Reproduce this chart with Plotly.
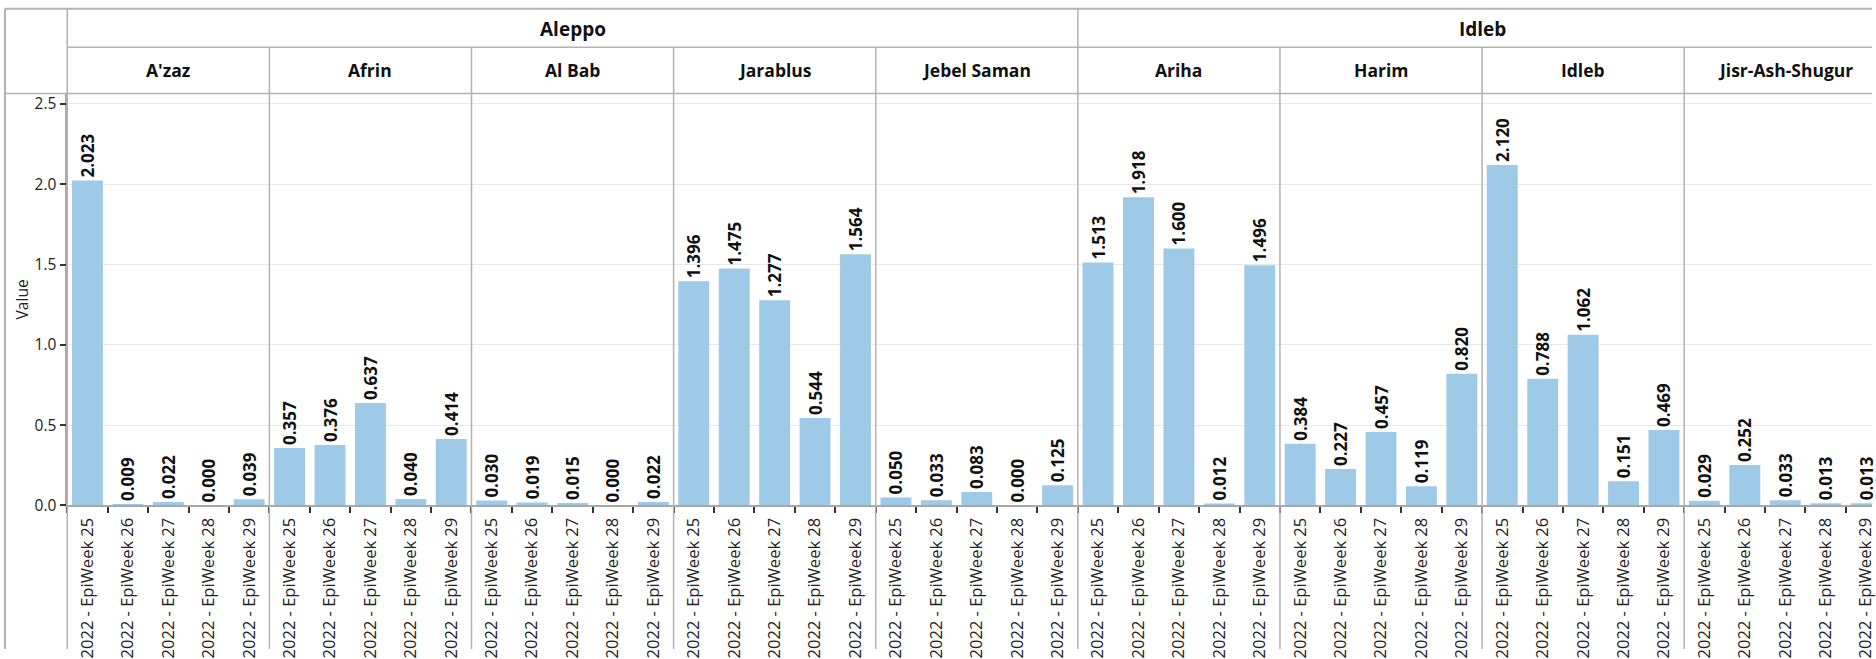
import plotly.graph_objects as go

# ---------------- data ----------------
weeks = ["2022 - EpiWeek 25", "2022 - EpiWeek 26", "2022 - EpiWeek 27",
         "2022 - EpiWeek 28", "2022 - EpiWeek 29"]
governorates = ["Aleppo", "Idleb"]
districts = ["A'zaz", "Afrin", "Al Bab", "Jarablus", "Jebel Saman",
             "Ariha", "Harim", "Idleb", "Jisr-Ash-Shugur"]
district_gov = ["Aleppo", "Aleppo", "Aleppo", "Aleppo", "Aleppo",
                "Idleb", "Idleb", "Idleb", "Idleb"]

azaz = [2.023, 0.009, 0.022, 0.000, 0.039]
afrin = [0.357, 0.376, 0.637, 0.040, 0.414]
al_bab = [0.030, 0.019, 0.015, 0.000, 0.022]
jarablus = [1.396, 1.475, 1.277, 0.544, 1.564]
jebel_saman = [0.050, 0.033, 0.083, 0.000, 0.125]
ariha = [1.513, 1.918, 1.600, 0.012, 1.496]
harim = [0.384, 0.227, 0.457, 0.119, 0.820]
idleb = [2.120, 0.788, 1.062, 0.151, 0.469]
jisr = [0.029, 0.252, 0.033, 0.013, 0.013]
values = [azaz, afrin, al_bab, jarablus, jebel_saman, ariha, harim, idleb, jisr]

# ---------------- layout geometry (pixels) ----------------
W, H = 1876, 659
LEFT = 67.4
PW = 202.55
FRAME_X = 5
ROW1_TOP = 8
ROW2_TOP = 47
PLOT_TOP = 94
BASE = 513
YMAX = 2.565

FONT = "Open Sans"
BAR = "#9ecae7"
LINE = "#b2b2b2"

def px_x(p):
    return p / W

def px_y(p):
    return 1 - p / H

fig = go.Figure()

for i, (name, vals) in enumerate(zip(districts, values)):
    n = i + 1
    x0 = LEFT + i * PW
    x1 = min(LEFT + (i + 1) * PW, W)
    frac = (x1 - x0) / PW
    fig.add_trace(go.Bar(
        x=weeks, y=vals, xaxis=f"x{n}", yaxis=f"y{n}",
        marker=dict(color=BAR, line=dict(width=0)),
        text=[f"{v:.3f}" for v in vals],
        textposition="outside", textangle=-90,
        textfont=dict(family=FONT, size=17, color="#111", weight="bold"),
        cliponaxis=False, constraintext="none",
        showlegend=False, name=name,
    ))
    fig.layout[f"xaxis{n}"] = dict(
        domain=[px_x(x0), px_x(x1)], anchor=f"y{n}",
        type="category", range=[-0.5, -0.5 + 5 * frac],
        tickson="boundaries", ticks="outside", ticklen=6, tickwidth=1.5,
        tickcolor="#333", tickangle=-90, ticklabelstandoff=4,
        tickfont=dict(family=FONT, size=16.5, color="#222"),
        showline=True, linecolor="#a8a8a8", linewidth=1.5,
        showgrid=False, zeroline=False, fixedrange=True,
    )
    first = (i == 0)
    fig.layout[f"yaxis{n}"] = dict(
        domain=[px_y(BASE), px_y(PLOT_TOP)], anchor=f"x{n}",
        range=[0, YMAX], dtick=0.5, tick0=0, tickformat=".1f",
        showgrid=True, gridcolor="#e8e8e8", gridwidth=1.2,
        zeroline=False,
        showticklabels=first,
        ticks="outside" if first else "", ticklen=6, tickwidth=1.5, tickcolor="#333",
        tickfont=dict(family=FONT, size=15.5, color="#222"),
        showline=first, linecolor="#a8a8a8", linewidth=1.5,
        fixedrange=True,
    )

shapes = []
def hline(y, xa, xb, w=1.5, c=LINE):
    shapes.append(dict(type="line", xref="paper", yref="paper",
                       x0=px_x(xa), x1=px_x(xb), y0=px_y(y), y1=px_y(y),
                       line=dict(color=c, width=w), layer="above"))
def vline(x, ya, yb, w=1.5, c=LINE):
    shapes.append(dict(type="line", xref="paper", yref="paper",
                       x0=px_x(x), x1=px_x(x), y0=px_y(ya), y1=px_y(yb),
                       line=dict(color=c, width=w), layer="above"))

hline(ROW1_TOP, FRAME_X, W, w=2)
hline(ROW2_TOP, LEFT, W)
hline(PLOT_TOP, FRAME_X, W)
vline(FRAME_X, ROW1_TOP, H, w=2)
vline(LEFT, ROW1_TOP, H)
for i in range(1, len(districts)):
    xs = LEFT + i * PW
    if district_gov[i] != district_gov[i - 1]:
        vline(xs, ROW1_TOP, H)
    else:
        vline(xs, ROW2_TOP, H)

annotations = []
# governorate headers
for g in governorates:
    idx = [k for k, d in enumerate(district_gov) if d == g]
    xa = LEFT + idx[0] * PW
    xb = LEFT + (idx[-1] + 1) * PW
    annotations.append(dict(text=f"<b>{g}</b>", xref="paper", yref="paper",
                            x=px_x((xa + xb) / 2), y=px_y((ROW1_TOP + ROW2_TOP) / 2 + 1),
                            showarrow=False, xanchor="center", yanchor="middle",
                            font=dict(family=FONT, size=19, color="#111")))
# district headers
for i, d in enumerate(districts):
    xc = LEFT + (i + 0.5) * PW
    annotations.append(dict(text=f"<b>{d}</b>", xref="paper", yref="paper",
                            x=px_x(xc), y=px_y((ROW2_TOP + PLOT_TOP) / 2),
                            showarrow=False, xanchor="center", yanchor="middle",
                            font=dict(family=FONT, size=17.5, color="#111")))
# y axis title
annotations.append(dict(text="Value", xref="paper", yref="paper",
                        x=px_x(22), y=px_y((PLOT_TOP + BASE) / 2),
                        showarrow=False, textangle=-90,
                        xanchor="center", yanchor="middle",
                        font=dict(family=FONT, size=15.5, color="#222")))

fig.update_layout(
    width=W, height=H,
    margin=dict(l=0, r=0, t=0, b=0),
    paper_bgcolor="white", plot_bgcolor="white",
    bargap=0.235,
    shapes=shapes, annotations=annotations,
    font=dict(family=FONT),
    showlegend=False,
)

fig.write_html(
    "out.html",
    config={"displayModeBar": False},
    post_script="document.body.style.margin='0px';document.body.style.overflow='hidden';",
)
